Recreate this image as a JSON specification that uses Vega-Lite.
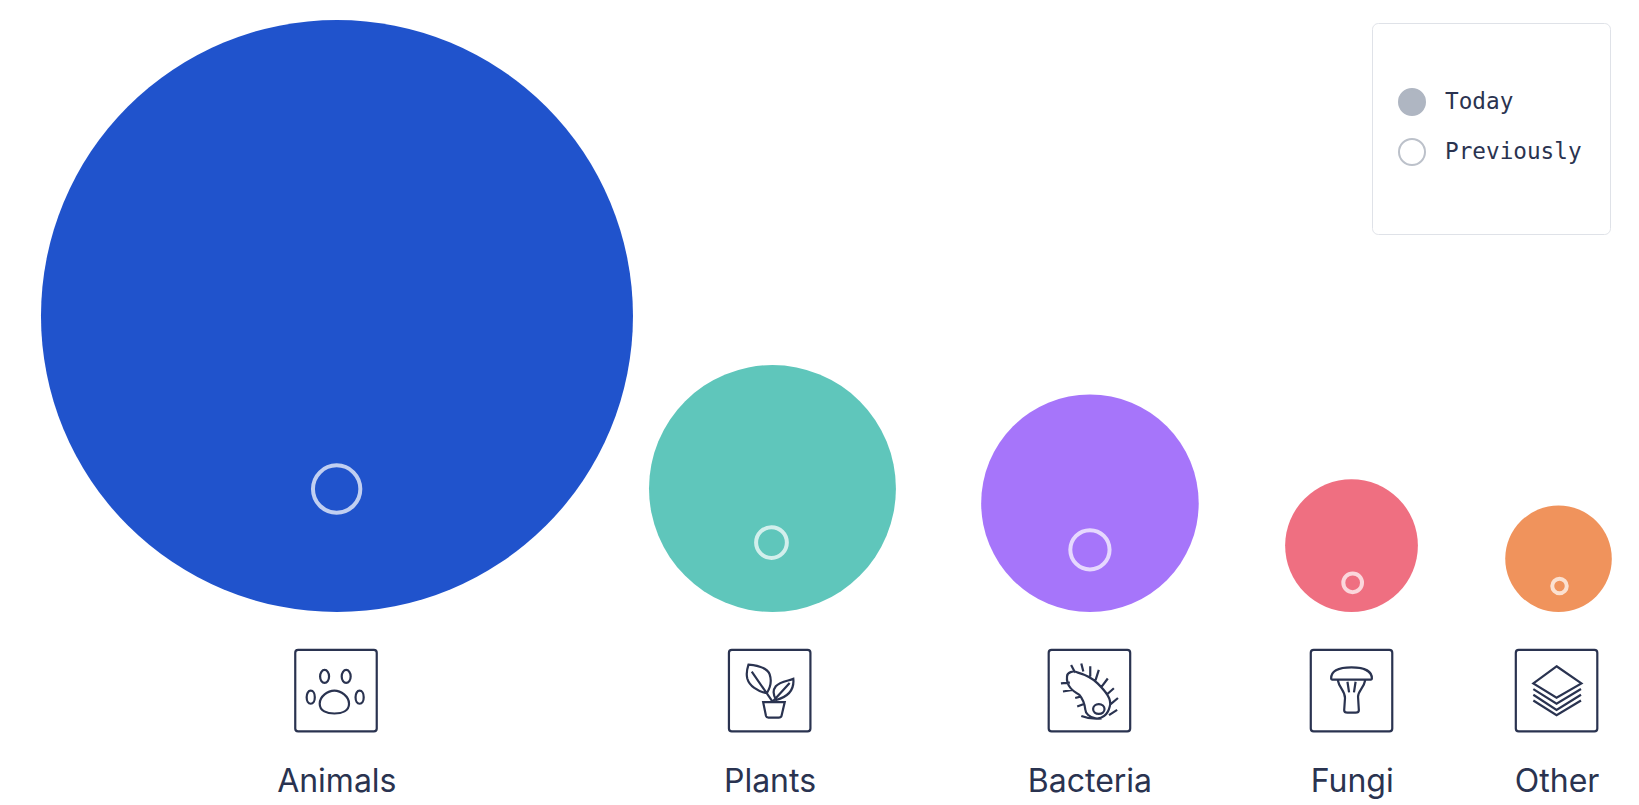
{
"$schema":"https://vega.github.io/schema/vega-lite/v6.json",
"autosize":{"type":"fit","contains":"padding"},
"width":1639,"height":805,"padding":0,
"background":"#ffffff",
"view":{"stroke":null},
"data":{"values":[
{"kingdom":"Animals","today":100,"previously":0.64,"slot":20.56,"ringSlot":20.54,"iconSlot":20.5,"labelSlot":20.55,"ringLevel":39.25},
{"kingdom":"Plants","today":17.4,"previously":0.27,"slot":47.13,"ringSlot":47.07,"iconSlot":46.96,"labelSlot":46.98,"ringLevel":32.6},
{"kingdom":"Bacteria","today":13.5,"previously":0.44,"slot":66.5,"ringSlot":66.5,"iconSlot":66.47,"labelSlot":66.5,"ringLevel":31.7},
{"kingdom":"Fungi","today":5.03,"previously":0.1,"slot":82.46,"ringSlot":82.53,"iconSlot":82.46,"labelSlot":82.5,"ringLevel":27.6},
{"kingdom":"Other","today":3.24,"previously":0.06,"slot":95.09,"ringSlot":95.15,"iconSlot":94.97,"labelSlot":95.0,"ringLevel":27.2}
]},
"layer":[
{"mark":{"type":"point","filled":true,"opacity":1,"strokeWidth":0},
 "encoding":{
  "x":{"field":"slot","type":"quantitative","scale":{"domain":[0,100]},"axis":null},
  "y":{"field":"today","type":"quantitative","scale":{"type":"sqrt","domain":[0,100],"range":[612,316],"zero":false},"axis":null},
  "size":{"field":"today","type":"quantitative","scale":{"type":"linear","domain":[0,100],"range":[0,350464]},"legend":null},
  "fill":{"field":"kingdom","type":"nominal","scale":{"domain":["Animals","Plants","Bacteria","Fungi","Other"],"range":["#2053cc","#5fc6bb","#a675fa","#ef6f81","#f0935c"]},"legend":null}
 }},
{"mark":{"type":"point","filled":false,"stroke":"#ffffff","strokeOpacity":0.72,"strokeWidth":4,"opacity":1},
 "encoding":{
  "x":{"field":"ringSlot","type":"quantitative","scale":{"domain":[0,100]},"axis":null},
  "y":{"field":"ringLevel","type":"quantitative","scale":{"domain":[0,100],"range":[805,0]},"axis":null},
  "size":{"field":"previously","type":"quantitative","scale":{"type":"linear","domain":[0,100],"range":[0,350464]},"legend":null}
 }},
{"mark":{"type":"point","filled":false,"stroke":"#2a3350","strokeWidth":2.2,"opacity":1,"size":6640},
 "encoding":{
  "x":{"field":"iconSlot","type":"quantitative","scale":{"domain":[0,100]},"axis":null},
  "y":{"datum":14.2,"type":"quantitative","scale":{"domain":[0,100],"range":[805,0]},"axis":null},
  "shape":{"field":"kingdom","type":"nominal","legend":null,"scale":{"domain":["Animals","Plants","Bacteria","Fungi","Other"],"range":[
"M-.93,-1 L.93,-1 Q1,-1 1,-.93 L1,.93 Q1,1 .93,1 L-.93,1 Q-1,1 -1,.93 L-1,-.93 Q-1,-1 -.93,-1 Z M-.39,-.35 C-.39,-.44 -.34,-.51 -.28,-.51 C-.22,-.51 -.17,-.44 -.17,-.35 C-.17,-.26 -.22,-.19 -.28,-.19 C-.34,-.19 -.39,-.26 -.39,-.35 Z M.14,-.35 C.14,-.44 .19,-.51 .25,-.51 C.31,-.51 .36,-.44 .36,-.35 C.36,-.26 .31,-.19 .25,-.19 C.19,-.19 .14,-.26 .14,-.35 Z M-.72,.16 C-.72,.07 -.68,0 -.62,0 C-.56,0 -.52,.07 -.52,.16 C-.52,.25 -.56,.32 -.62,.32 C-.68,.32 -.72,.25 -.72,.16 Z M.48,.16 C.48,.07 .52,0 .58,0 C.64,0 .68,.07 .68,.16 C.68,.25 .64,.32 .58,.32 C.52,.32 .48,.25 .48,.16 Z M-.04,0 C.12,0 .32,.14 .32,.32 C.32,.5 .14,.56 -.04,.56 C-.22,.56 -.4,.5 -.4,.32 C-.4,.14 -.2,0 -.04,0 Z",
"M-.93,-1 L.93,-1 Q1,-1 1,-.93 L1,.93 Q1,1 .93,1 L-.93,1 Q-1,1 -1,.93 L-1,-.93 Q-1,-1 -.93,-1 Z M-.52,-.64 C-.3,-.62 -.05,-.55 0,-.4 C.05,-.25 .02,-.08 -.07,.06 C-.3,.02 -.5,-.12 -.55,-.3 C-.58,-.42 -.55,-.55 -.52,-.64 Z M-.44,-.47 L.07,.27 M.58,-.29 C.6,-.1 .55,.12 .16,.23 C.08,.1 .08,-.02 .15,-.11 C.25,-.22 .45,-.24 .58,-.29 Z M.49,-.19 L.07,.27 M-.16,.28 L.37,.28 L.29,.62 Q.28,.66 .22,.66 L-.03,.66 Q-.08,.66 -.09,.62 Z",
"M-.93,-1 L.93,-1 Q1,-1 1,-.93 L1,.93 Q1,1 .93,1 L-.93,1 Q-1,1 -1,.93 L-1,-.93 Q-1,-1 -.93,-1 Z M-.55,-.35 C-.55,-.45 -.4,-.5 -.3,-.45 C-.05,-.38 .1,-.28 .2,-.18 C.4,.02 .55,.2 .5,.38 C.45,.6 .3,.7 .15,.68 C0,.66 -.1,.55 -.1,.47 C-.12,.3 -.18,.18 -.25,.1 C-.38,.02 -.58,-.1 -.55,-.35 Z M.09,.45 C.09,.38 .15,.33 .23,.33 C.31,.33 .37,.38 .37,.45 C.37,.52 .31,.57 .23,.57 C.15,.57 .09,.52 .09,.45 Z M-.45,-.63 L-.35,-.44 M-.2,-.67 L-.15,-.47 M.02,-.6 L.02,-.35 M.23,-.51 L.15,-.26 M.45,-.3 L.3,-.1 M.6,-.06 L.42,.1 M.7,.18 L.5,.35 M.68,.47 L.48,.6 M-.7,-.18 L-.48,-.2 M-.65,.02 L-.42,-.02 M-.35,.18 L-.2,.14 M-.3,.39 L-.12,.32 M-.2,.62 C-.05,.68 .1,.7 .3,.68",
"M-.93,-1 L.93,-1 Q1,-1 1,-.93 L1,.93 Q1,1 .93,1 L-.93,1 Q-1,1 -1,.93 L-1,-.93 Q-1,-1 -.93,-1 Z M-.5,-.3 C-.5,-.5 -.27,-.57 0,-.57 C.27,-.57 .5,-.5 .5,-.3 Q.5,-.27 .44,-.27 L-.44,-.27 Q-.5,-.27 -.5,-.3 Z M-.34,-.27 C-.3,-.05 -.16,0 -.16,.18 L-.18,.48 Q-.18,.54 -.1,.54 L.1,.54 Q.18,.54 .18,.48 L.16,.15 C.16,0 .3,-.05 .34,-.27 M-.1,-.22 L-.06,.04 M.1,-.22 L.06,.04",
"M-.93,-1 L.93,-1 Q1,-1 1,-.93 L1,.93 Q1,1 .93,1 L-.93,1 Q-1,1 -1,.93 L-1,-.93 Q-1,-1 -.93,-1 Z M0,-.6 L.61,-.18 L0,.17 L-.57,-.18 Z M-.57,-.04 L0,.32 L.6,-.04 M-.57,.1 L0,.47 L.6,.1 M-.57,.24 L0,.6 L.6,.24"
]}}
 }},
{"mark":{"type":"text","font":"Inter","fontSize":32,"fontWeight":400,"color":"#2a3350","align":"center","baseline":"alphabetic"},
 "encoding":{
  "x":{"field":"labelSlot","type":"quantitative","scale":{"domain":[0,100]},"axis":null},
  "y":{"datum":1.6,"type":"quantitative","scale":{"domain":[0,100],"range":[805,0]},"axis":null},
  "text":{"field":"kingdom","type":"nominal"}
 }},
{"data":{"values":[{"series":"Today"},{"series":"Previously"}]},
 "mark":{"type":"point","filled":true,"opacity":0,"size":1},
 "encoding":{
  "fill":{"field":"series","type":"nominal","scale":{"domain":["Today","Previously","\u2800\u2800\u2800\u2800\u2800\u2800\u2800\u2800\u2800\u2800\u2800"],"range":["#afb6c2","#ffffff","transparent"]},
   "legend":{"orient":"none","legendX":1372,"legendY":23,"title":" ","titleFontSize":30,"titlePadding":20,"padding":15,"fillColor":"#ffffff","strokeColor":"#dfe2e8","cornerRadius":6,"symbolType":"circle","symbolSize":676,"symbolStrokeWidth":2,"symbolOpacity":1,"symbolOffset":11,"labelFont":"DejaVu Sans Mono","labelFontSize":22.7,"labelColor":"#2a3350","labelOffset":19,"rowPadding":16,"values":["Today","Previously","\u2800\u2800\u2800\u2800\u2800\u2800\u2800\u2800\u2800\u2800\u2800"],
   "encoding":{"symbols":{"stroke":{"value":{"expr":"datum.label === 'Today' ? '#afb6c2' : datum.label === 'Previously' ? '#bcc1ca' : 'transparent'"}}},
    "labels":{"fill":{"value":{"expr":"datum.label === 'Today' || datum.label === 'Previously' ? '#2a3350' : 'transparent'"}}}}}}
 }}
],
"resolve":{"scale":{"y":"independent","size":"independent","fill":"independent","x":"independent"}}
}
